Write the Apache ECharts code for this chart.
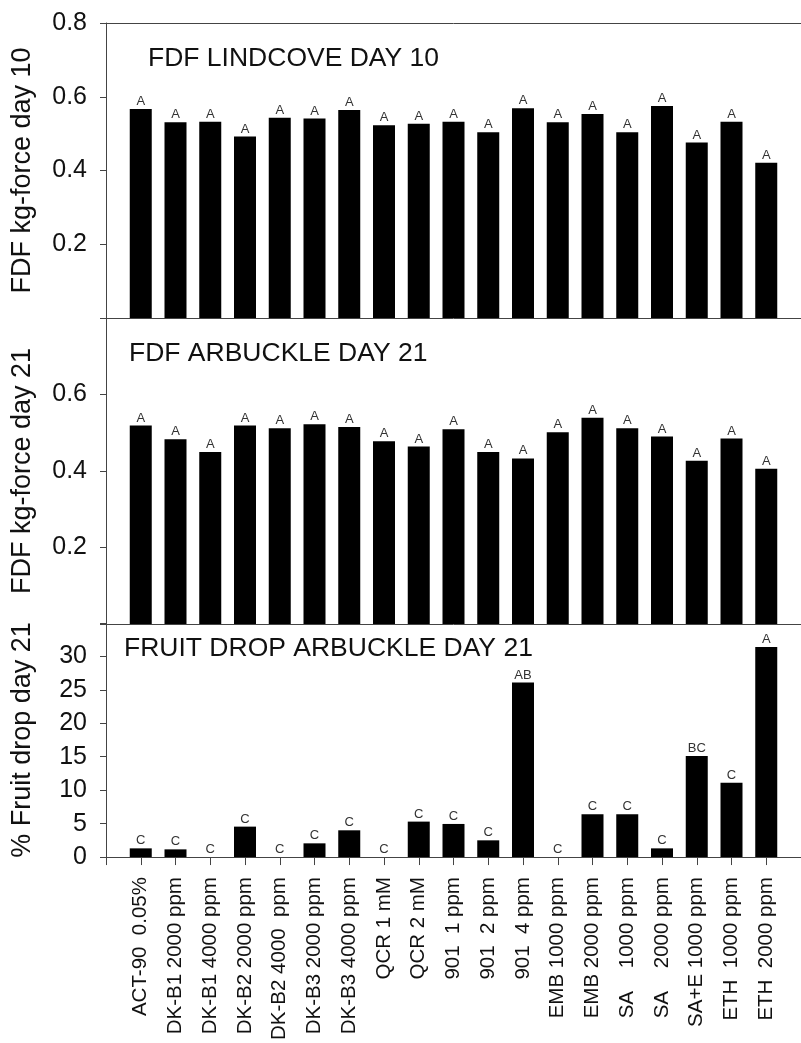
<!DOCTYPE html>
<html>
<head>
<meta charset="utf-8">
<script src="https://cdn.jsdelivr.net/npm/echarts@6/dist/echarts.min.js"></script>
<style>
html,body{margin:0;padding:0;background:#fff;}
#c{width:801px;height:1043px;}
</style>
</head>
<body>
<div id="c"></div>
<script>
const categories = ['ACT-90  0.05%','DK-B1 2000 ppm','DK-B1 4000 ppm','DK-B2 2000 ppm','DK-B2 4000  ppm','DK-B3 2000 ppm','DK-B3 4000 ppm','QCR 1 mM','QCR 2 mM','901  1 ppm','901  2 ppm','901  4 ppm','EMB 1000 ppm','EMB 2000 ppm','SA    1000 ppm','SA    2000 ppm','SA+E 1000 ppm','ETH  1000 ppm','ETH  2000 ppm'];
const lindcoveDay10 = [0.567,0.531,0.532,0.492,0.543,0.541,0.564,0.523,0.527,0.532,0.504,0.569,0.531,0.553,0.504,0.575,0.476,0.532,0.421];
const arbuckleDay21 = [0.519,0.483,0.450,0.519,0.512,0.522,0.515,0.478,0.464,0.509,0.450,0.433,0.501,0.539,0.512,0.490,0.427,0.485,0.406];
const fruitDropDay21 = [1.3,1.15,0,4.55,0,2.05,4.0,0,5.3,4.95,2.5,26.1,0,6.4,6.4,1.3,15.1,11.1,31.4];
const lindcoveLetters = ['A','A','A','A','A','A','A','A','A','A','A','A','A','A','A','A','A','A','A'];
const arbuckleLetters = ['A','A','A','A','A','A','A','A','A','A','A','A','A','A','A','A','A','A','A'];
const dropLetters = ['C','C','C','C','C','C','C','C','C','C','C','AB','C','C','C','C','BC','C','A'];
const panelTitles = ['FDF LINDCOVE DAY 10','FDF ARBUCKLE DAY 21','FRUIT DROP ARBUCKLE DAY 21'];
const yNames = ['FDF kg-force day 10','FDF kg-force day 21','% Fruit drop day 21'];

const FONT = 'Liberation Sans, Arial, sans-serif';
const AX = '#444';
const chart = echarts.init(document.getElementById('c'), null, {renderer:'canvas'});

const xBase = {type:'value', min:-1, max:19, interval:1, splitLine:{show:false},
  axisLine:{show:true, onZero:false, lineStyle:{color:AX, width:1}}, axisTick:{show:false}, axisLabel:{show:false}};

function yAxisFor(grid, name, max, interval, hideFn, fmt){
  return {type:'value', gridIndex:grid, min:0, max:max, interval:interval,
    name:name, nameLocation:'middle', nameGap:70, nameRotate:90,
    nameTextStyle:{fontFamily:FONT, fontSize:27, color:'#111'},
    splitLine:{show:false},
    axisLine:{show:true, onZero:false, lineStyle:{color:AX, width:1}},
    axisTick:{show:true, inside:false, length:6, lineStyle:{color:AX}},
    axisLabel:{margin:19, fontFamily:FONT, fontSize:25, color:'#111',
      formatter:v => hideFn(v) ? '' : fmt(v)}};
}

function barSeries(xi, yi, values, letters){
  return {type:'bar', xAxisIndex:xi, yAxisIndex:yi, barWidth:22,
    data: values.map((v,i)=>[i,v]),
    itemStyle:{color:'#000'},
    label:{show:true, position:'top', distance:1, fontFamily:FONT, fontSize:13, color:'#333',
      formatter:p => letters[p.dataIndex]},
    silent:true, animation:false};
}

const titleStyle = {fontFamily:FONT, fontSize:26.5, fontWeight:'normal', color:'#111'};
const option = {
  animation:false,
  backgroundColor:'#fff',
  title:[
    {text:panelTitles[0], left:148, top:45, padding:0, textStyle:titleStyle},
    {text:panelTitles[1], left:129, top:340, padding:0, textStyle:titleStyle},
    {text:panelTitles[2], left:124, top:635, padding:0, textStyle:titleStyle}
  ],
  grid:[
    {left:106, right:-10, top:23, height:295},
    {left:106, right:-10, top:318, height:306},
    {left:106, right:-10, top:623, height:235}
  ],
  xAxis:[
    Object.assign({}, xBase, {gridIndex:0, position:'bottom'}),
    Object.assign({}, xBase, {gridIndex:0, position:'top'}),
    Object.assign({}, xBase, {gridIndex:1, position:'bottom'}),
    Object.assign({}, xBase, {gridIndex:2, position:'bottom',
      axisTick:{show:true, inside:false, length:8, lineStyle:{color:AX}},
      axisLabel:{show:true, rotate:90, margin:20, fontFamily:FONT, fontSize:20.5, color:'#111',
        formatter:v => (Number.isInteger(v) && v >= 0 && categories[v] !== undefined) ? categories[v] : ''}})
  ],
  yAxis:[
    yAxisFor(0, yNames[0], 0.8, 0.2, v => v === 0, v => v.toFixed(1)),
    yAxisFor(1, yNames[1], 0.8, 0.2, v => v === 0 || v >= 0.79, v => v.toFixed(1)),
    yAxisFor(2, yNames[2], 35, 5, v => v >= 35, v => String(v))
  ],
  series:[
    barSeries(0, 0, lindcoveDay10, lindcoveLetters),
    barSeries(3, 2, fruitDropDay21, dropLetters),
    barSeries(2, 1, arbuckleDay21, arbuckleLetters)
  ]
};
chart.setOption(option);
</script>
</body>
</html>
